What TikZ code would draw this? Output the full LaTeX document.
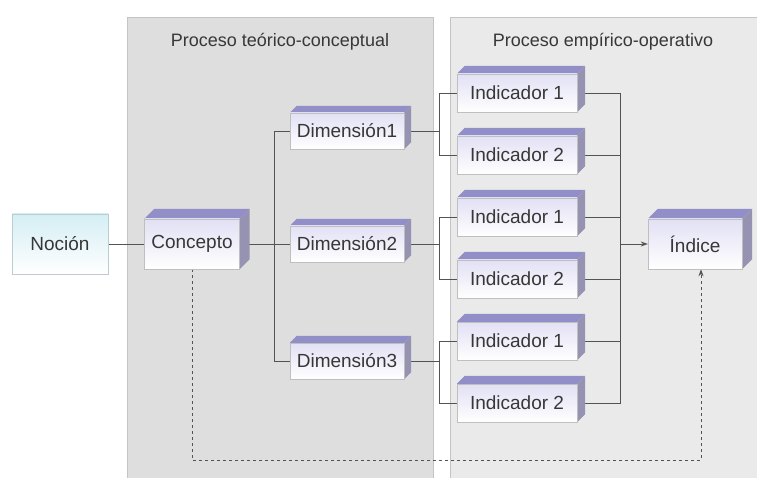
\documentclass[tikz,border=0pt]{standalone}
\usepackage{fontspec}
\setmainfont{Liberation Sans}
\definecolor{beveltop}{RGB}{146,142,200}
\definecolor{bevelside}{RGB}{150,146,178}
\definecolor{facetop}{RGB}{226,224,244}
\definecolor{nociontop}{RGB}{212,238,244}
\definecolor{panelleft}{RGB}{222,222,222}
\definecolor{panelright}{RGB}{234,234,234}
\definecolor{paneledge}{RGB}{196,196,196}
\definecolor{labeltext}{RGB}{55,55,55}
\usetikzlibrary{
  arrows.meta,
  backgrounds,
  positioning,
}
\tikzset{
  >={Stealth[length=7pt,width=5pt]},
  box/.style={draw=gray!50,rectangle,inner sep=0pt,top color=facetop,bottom color=white,text=labeltext,font=\fontsize{19}{21}\selectfont},
  panel/.style={draw=paneledge,line width=0.8pt},
  link/.style={draw=gray!65!black,line width=0.8pt},
}
\begin{document}
\begin{tikzpicture}[x=1pt,y=-1pt]
        \useasboundingbox (0,0) rectangle (757,478);

        \node[draw=nociontop!70!gray,rectangle,top color=nociontop,bottom color=white,minimum width=96,minimum height=60,text=labeltext,font=\fontsize{19}{21}\selectfont]    (nocion) at (60,244)    {Noción};
        \node[box,minimum width=95,minimum height=50]    (concepto) at (192,244)    {Concepto};
        \node[box,minimum width=114,minimum height=36]    (dim1) at (347,131)    {Dimensión1};
        \node[box,minimum width=114,minimum height=36]    (dim2) at (347,244)    {Dimensión2};
        \node[box,minimum width=114,minimum height=36]    (dim3) at (347,361)    {Dimensión3};
        \node[box,minimum width=120,minimum height=38]    (ind1a) at (517,93)    {Indicador 1};
        \node[box,minimum width=120,minimum height=38]    (ind2a) at (517,155)    {Indicador 2};
        \node[box,minimum width=120,minimum height=38]    (ind1b) at (517,217)    {Indicador 1};
        \node[box,minimum width=120,minimum height=38]    (ind2b) at (517,279)    {Indicador 2};
        \node[box,minimum width=120,minimum height=38]    (ind1c) at (517,341)    {Indicador 1};
        \node[box,minimum width=120,minimum height=38]    (ind2c) at (517,403)    {Indicador 2};
        \node[box,minimum width=94,minimum height=50]    (indice) at (695,244)    {Índice};

        \node[text=labeltext,font=\fontsize{18}{20}\selectfont]    (teorico) at (280,42)    {Proceso teórico-conceptual};
        \node[text=labeltext,font=\fontsize{18}{20}\selectfont]    (empirico) at (603,42)    {Proceso empírico-operativo};

        \coordinate (merge) at (620,244);
        \coordinate (dashbase) at (0,460);

        \begin{scope}[on background layer]
            \fill[white] (0,0) rectangle (757,478);
            \filldraw[panel,fill=panelleft] (127,17) rectangle (433,479);
            \filldraw[panel,fill=panelright] (450,17) rectangle (758,479);

            \draw[link] (nocion) -- (concepto);
            \draw[link] (concepto) -- (dim2);
            \draw[link] (dim1.west) -- ++(-15,0) |- (dim3.west);
            \draw[link] (dim1.east) -- ++(36,0);
            \draw[link] (dim2.east) -- ++(36,0);
            \draw[link] (dim3.east) -- ++(36,0);
            \draw[link] (ind1a.west) -- ++(-17,0) |- (ind2a.west);
            \draw[link] (ind1b.west) -- ++(-17,0) |- (ind2b.west);
            \draw[link] (ind1c.west) -- ++(-17,0) |- (ind2c.west);
            \draw[link] (ind1a.east) -- ++(43,0) |- (ind2c.east);
            \draw[link] (ind2a.east) -- ++(43,0);
            \draw[link] (ind1b.east) -- ++(43,0);
            \draw[link] (ind2b.east) -- ++(43,0);
            \draw[link] (ind1c.east) -- ++(43,0);
            \draw[link,->] (merge) -- (indice);
            \draw[link,dashed,->] (concepto.south) -- (concepto.south |- dashbase) -| ([xshift=6pt]indice.south);

            % bevel on top and right of each box
            \foreach \n/\d in {concepto/10pt,indice/10pt,dim1/7pt,dim2/7pt,dim3/7pt,ind1a/8pt,ind2a/8pt,ind1b/8pt,ind2b/8pt,ind1c/8pt,ind2c/8pt} {
                \fill[beveltop] (\n.north west) -- ([xshift=\d,yshift=\d]\n.north west) -- ([xshift=\d,yshift=\d]\n.north east) -- (\n.north east) -- cycle;
                \fill[bevelside] (\n.north east) -- ([xshift=\d,yshift=\d]\n.north east) -- ([xshift=\d,yshift=\d]\n.south east) -- (\n.south east) -- cycle;
            }
        \end{scope}

    \end{tikzpicture}
\end{document}
